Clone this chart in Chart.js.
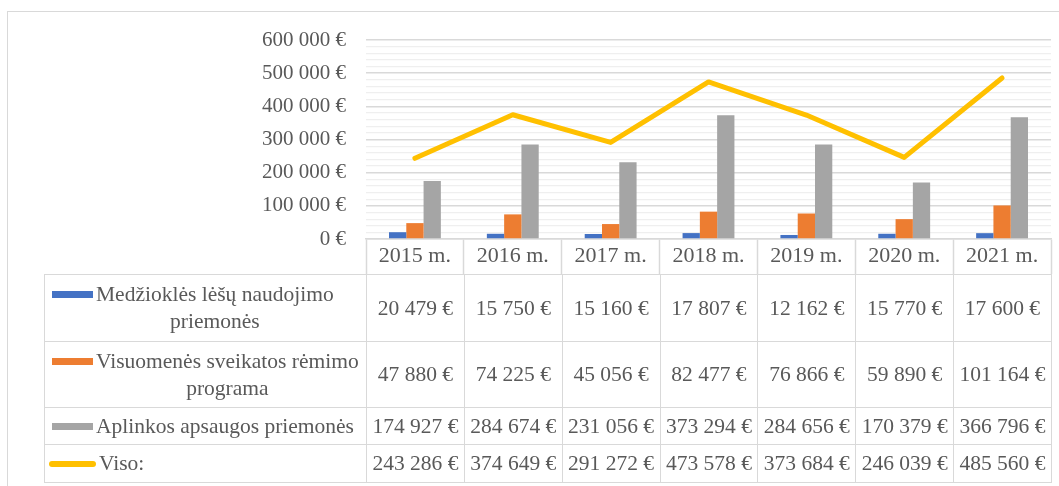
<!DOCTYPE html>
<html>
<head>
<meta charset="utf-8">
<script src="https://cdn.jsdelivr.net/npm/chart.js@4.4.0/dist/chart.umd.min.js"></script>
<style>
body { margin: 0; background: #fff; }
#wrap { position: relative; width: 1059px; height: 486px; overflow: hidden; font-family: "Liberation Serif", serif; color: #595959; }
#frame { position: absolute; left: 7px; top: 11px; width: 1060px; height: 480px; border-top: 1.5px solid #d9d9d9; border-left: 1.5px solid #d9d9d9; }
#c { position: absolute; left: 0; top: 0; }
#tbl { position: absolute; border-collapse: collapse; table-layout: fixed; font-size: 21.5px; }
#tbl td { border: 1.5px solid #d9d9d9; text-align: center; vertical-align: middle; padding: 0; white-space: nowrap; }
#tbl td.lg { text-align: left; }
.lgw { display: flex; align-items: flex-start; }
.key { flex: none; display: inline-block; }
.lt { display: inline-block; text-align: center; line-height: 27px; margin-left: 3px; }
</style>
</head>
<body>
<div id="wrap">
  <div id="frame"></div>
  <canvas id="c" width="1059" height="486"></canvas>
  <table id="tbl"></table>
</div>
<script>
var years = ["2015 m.", "2016 m.", "2017 m.", "2018 m.", "2019 m.", "2020 m.", "2021 m."]
var medzioklesLesos = [20479, 15750, 15160, 17807, 12162, 15770, 17600]
var sveikatosPrograma = [47880, 74225, 45056, 82477, 76866, 59890, 101164]
var aplinkosApsauga = [174927, 284674, 231056, 373294, 284656, 170379, 366796]
var viso = [243286, 374649, 291272, 473578, 373684, 246039, 485560]
var seriesNames = ["Medžioklės lėšų naudojimo priemonės", "Visuomenės sveikatos rėmimo programa", "Aplinkos apsaugos priemonės", "Viso:"]
var colors = ['#4472C4', '#ED7D31', '#A5A5A5', '#FFC000']
var yMax = 600000, yMajor = 100000, yMinor = 20000

function eur(v) {
  return String(v).replace(/\B(?=(\d{3})+(?!\d))/g, ' ') + ' €'
}

var tickFont = { family: 'Liberation Serif', size: 21 }

var chart = new Chart(document.getElementById('c'), {
  type: 'bar',
  data: {
    labels: years,
    datasets: [
      { type: 'line', label: seriesNames[3], data: viso, borderColor: colors[3], backgroundColor: colors[3],
        borderWidth: 5, pointRadius: 0, borderCapStyle: 'round', borderJoinStyle: 'round', order: 0 },
      { label: seriesNames[0], data: medzioklesLesos, backgroundColor: colors[0], order: 1 },
      { label: seriesNames[1], data: sveikatosPrograma, backgroundColor: colors[1], order: 1 },
      { label: seriesNames[2], data: aplinkosApsauga, backgroundColor: colors[2], order: 1 }
    ]
  },
  options: {
    responsive: false,
    animation: false,
    layout: { padding: { top: 40, right: 8, left: 0, bottom: 0 } },
    datasets: { bar: { categoryPercentage: 0.53, barPercentage: 1 } },
    plugins: { legend: { display: false }, tooltip: { enabled: false } },
    scales: {
      x: {
        grid: { offset: true, drawOnChartArea: false, drawTicks: true, tickLength: 35, tickColor: '#d9d9d9', tickWidth: 1.5 },
        border: { display: true, color: '#d9d9d9', width: 1.5 },
        ticks: { font: { family: 'Liberation Serif', size: 22 }, color: '#595959', padding: -31, maxRotation: 0 },
        afterFit: function (s) { s.height = 486 - 239 }
      },
      y: {
        min: 0, max: yMax,
        ticks: {
          stepSize: yMinor, autoSkip: false, padding: 20, font: tickFont, color: '#595959',
          callback: function (v) { return v % yMajor === 0 ? eur(v) : '' }
        },
        grid: {
          drawTicks: false,
          color: function (ctx) { return ctx.tick && ctx.tick.value % yMajor === 0 ? '#d9d9d9' : '#efefef' },
          lineWidth: function (ctx) { return ctx.tick && ctx.tick.value % yMajor === 0 ? 1.5 : 1.2 }
        },
        border: { display: false },
        afterFit: function (s) { s.width = 366 }
      }
    }
  }
})

// data table under the chart, columns follow the x scale
var xs = chart.scales.x
var colW = (xs.right - xs.left) / years.length
var tblLeft = 44
var tbl = document.getElementById('tbl')
tbl.style.left = tblLeft + 'px'
tbl.style.top = (chart.chartArea.bottom + 35) + 'px'
tbl.style.width = (xs.right - tblLeft) + 'px'

// wrap legend names like Excel does (greedy, measured)
var mctx = document.createElement('canvas').getContext('2d')
mctx.font = '21.5px "Liberation Serif"'
function wrap(text, maxW) {
  var words = text.split(' '), lines = [], cur = ''
  words.forEach(function (w) {
    var t = cur ? cur + ' ' + w : w
    if (cur && mctx.measureText(t).width > maxW) { lines.push(cur); cur = w } else cur = t
  })
  lines.push(cur)
  return lines.join('<br>')
}
var textW = xs.left - tblLeft - 50

var cg = '<colgroup><col style="width:' + (xs.left - tblLeft) + 'px">'
years.forEach(function () { cg += '<col style="width:' + colW + 'px">' })
cg += '</colgroup>'

var rows = [medzioklesLesos, sveikatosPrograma, aplinkosApsauga, viso]
var rowH = [67, 66, 37, 38]
var html = cg
rows.forEach(function (vals, r) {
  var key
  if (r === 3) {
    key = '<span class="key" style="background:' + colors[r] + ';width:47px;height:6px;border-radius:3px;margin:11px 0 0 4px"></span>'
  } else {
    key = '<span class="key" style="background:' + colors[r] + ';width:41px;height:7px;margin:10px 0 0 7px"></span>'
  }
  html += '<tr style="height:' + rowH[r] + 'px"><td class="lg"><div class="lgw">' + key +
    '<span class="lt">' + wrap(seriesNames[r], textW) + '</span></div></td>'
  vals.forEach(function (v) { html += '<td>' + eur(v) + '</td>' })
  html += '</tr>'
})
tbl.innerHTML = html
</script>
</body>
</html>
